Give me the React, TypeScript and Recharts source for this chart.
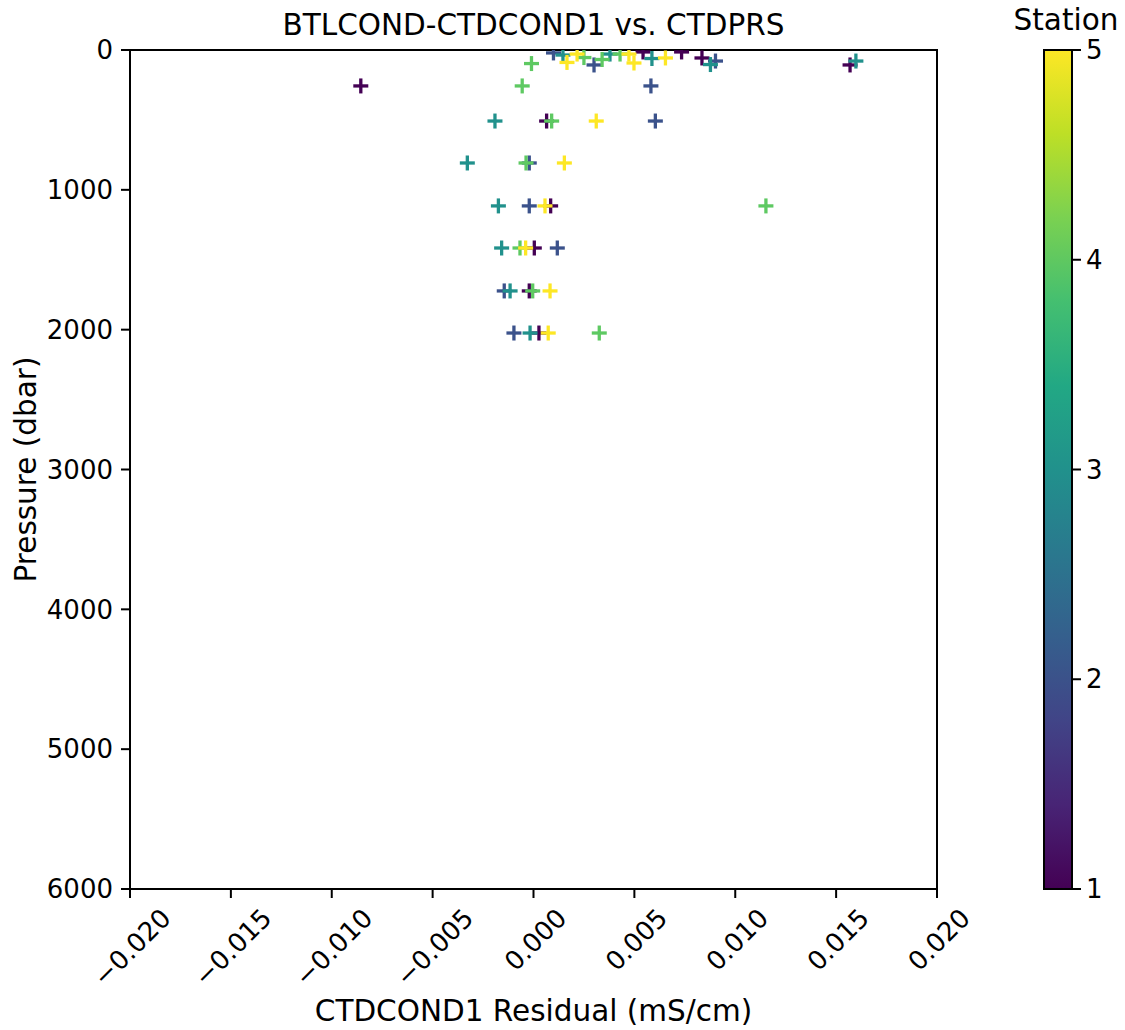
import {
  ScatterChart,
  Scatter,
  XAxis,
  YAxis,
  ReferenceArea,
} from 'recharts'

// bottle minus CTD conductivity residuals (mS/cm) and bottle pressures (dbar), per station
const station1Residual = [-0.00856, 0.00065, 0.00085, 0.00004, -0.00021, 0.00027, 0.00543, 0.00734, 0.00835, 0.01569]
const station1Pressure = [257, 508, 1115, 1416, 1723, 2024, 14, 14, 57, 107]

const station2Residual = [0.00582, 0.00604, -0.00021, -0.00021, 0.00118, -0.00145, -0.00097, 0.00099, 0.003, 0.00902]
const station2Pressure = [257, 508, 808, 1115, 1416, 1723, 2024, 21, 107, 79]

const station3Residual = [-0.00191, -0.00328, -0.00174, -0.00158, -0.00116, -0.00017, 0.00146, 0.00379, 0.00587, 0.00877, 0.01598]
const station3Pressure = [508, 808, 1115, 1416, 1723, 2024, 36, 29, 61, 104, 79]

const station4Residual = [-0.00056, 0.0009, -0.00037, 0.01152, -0.00067, -0.00004, 0.00326, -0.0001, 0.0025, 0.0034, 0.00429]
const station4Pressure = [257, 508, 808, 1115, 1416, 1723, 2024, 97, 54, 68, 29]

const station5Residual = [0.00311, 0.00153, 0.00057, -0.00039, 0.00082, 0.00073, 0.00166, 0.00216, 0.00473, 0.00498, 0.00654]
const station5Pressure = [508, 808, 1115, 1416, 1723, 2024, 89, 29, 29, 93, 57]

const stationNumbers = [1, 2, 3, 4, 5]
const residualTicks = [-0.02, -0.015, -0.01, -0.005, 0, 0.005, 0.01, 0.015, 0.02]
const pressureTicks = [0, 1000, 2000, 3000, 4000, 5000, 6000]

// viridis, sampled every 0.1
const viridis = ['#440154', '#482475', '#414487', '#355f8d', '#2a788e', '#21918c', '#22a884', '#44bf70', '#7ad151', '#bddf26', '#fde725']
const stationColors = ['#440154', '#3b528b', '#21918c', '#5ec962', '#fde725']

const toPoints = (res: number[], prs: number[]) => res.map((r, i) => ({ residual: r, pressure: prs[i] }))

const stations = [
  toPoints(station1Residual, station1Pressure),
  toPoints(station2Residual, station2Pressure),
  toPoints(station3Residual, station3Pressure),
  toPoints(station4Residual, station4Pressure),
  toPoints(station5Residual, station5Pressure),
]

const FONT = '"DejaVu Sans", sans-serif'
const TICK_FS = 26
const LABEL_FS = 29.5
const W = 1125
const H = 1030
const PLOT = { left: 130, right: 937, top: 50, bottom: 889 }
const BAR = { left: 1044, right: 1072 }

function PlusMarker(props: any) {
  const { cx, cy, fill } = props
  const r = 7.5
  return (
    <g stroke={fill} strokeWidth={3.3}>
      <line x1={cx - r} y1={cy} x2={cx + r} y2={cy} />
      <line x1={cx} y1={cy - r} x2={cx} y2={cy + r} />
    </g>
  )
}

const fmt = (v: number) => (v < 0 ? '\u2212' : '') + Math.abs(v).toFixed(3)

function RotatedTick(props: any) {
  const { x, y, payload } = props
  const label = fmt(payload.value)
  // rough DejaVu advance widths, in em
  const w = label.split('').reduce((s, ch) => s + (ch === '\u2212' ? 0.838 : ch === '.' ? 0.318 : 0.636), 0) * TICK_FS
  const cy = y + 9 + (w + 18) / 2.83
  return (
    <text
      x={x + 2}
      y={cy}
      textAnchor="middle"
      dominantBaseline="central"
      fontSize={TICK_FS}
      fontFamily={FONT}
      fill="#000"
      transform={`rotate(-45 ${x + 2} ${cy})`}
    >
      {label}
    </text>
  )
}

function Colorbar() {
  const yOf = (s: number) => PLOT.bottom - ((s - 1) / 4) * (PLOT.bottom - PLOT.top)
  return (
    <g fontFamily={FONT} fill="#000">
      <defs>
        <linearGradient id="viridisBar" x1="0" y1="1" x2="0" y2="0">
          {viridis.map((c, i) => (
            <stop key={c} offset={`${i * 10}%`} stopColor={c} />
          ))}
        </linearGradient>
      </defs>
      <rect
        x={BAR.left}
        y={PLOT.top}
        width={BAR.right - BAR.left}
        height={PLOT.bottom - PLOT.top}
        fill="url(#viridisBar)"
        stroke="#000"
        strokeWidth={2}
      />
      {stationNumbers.map((s) => (
        <g key={s}>
          <line x1={BAR.right} x2={BAR.right + 9} y1={yOf(s)} y2={yOf(s)} stroke="#000" strokeWidth={2} />
          <text x={BAR.right + 14} y={yOf(s)} dominantBaseline="central" fontSize={TICK_FS}>
            {s}
          </text>
        </g>
      ))}
      <text x={1066} y={20} textAnchor="middle" dominantBaseline="central" fontSize={LABEL_FS}>
        Station
      </text>
    </g>
  )
}

export default function App() {
  return (
    <div style={{ position: 'absolute', left: 0, top: 0, width: W, height: H, background: '#fff' }}>
      <ScatterChart
        width={W}
        height={H}
        margin={{ top: PLOT.top, left: PLOT.left - 80, right: W - PLOT.right, bottom: H - PLOT.bottom - 100 }}
      >
        <XAxis
          type="number"
          dataKey="residual"
          domain={[-0.02, 0.02]}
          ticks={residualTicks}
          allowDataOverflow
          height={100}
          tickSize={9}
          tickMargin={0}
          axisLine={{ stroke: '#000', strokeWidth: 2 }}
          tickLine={{ stroke: '#000', strokeWidth: 2 }}
          tick={<RotatedTick />}
          interval={0}
        />
        <YAxis
          type="number"
          dataKey="pressure"
          domain={[0, 6000]}
          ticks={pressureTicks}
          reversed
          allowDataOverflow
          width={80}
          tickSize={9}
          tickMargin={8}
          axisLine={{ stroke: '#000', strokeWidth: 2 }}
          tickLine={{ stroke: '#000', strokeWidth: 2 }}
          tick={{ fill: '#000', fontSize: TICK_FS, fontFamily: FONT }}
          interval={0}
        />
        <ReferenceArea x1={-0.02} x2={0.02} y1={0} y2={6000} fill="none" stroke="#000" strokeWidth={2} />
        {stations.map((pts, i) => (
          <Scatter
            key={i}
            data={pts}
            fill={stationColors[i]}
            shape={<PlusMarker />}
            isAnimationActive={false}
          />
        ))}
      </ScatterChart>
      <svg width={W} height={H} style={{ position: 'absolute', left: 0, top: 0, pointerEvents: 'none' }}>
        <g fontFamily={FONT} fill="#000">
          <text x={(PLOT.left + PLOT.right) / 2} y={25} textAnchor="middle" dominantBaseline="central" fontSize={LABEL_FS}>
            BTLCOND-CTDCOND1 vs. CTDPRS
          </text>
          <text x={(PLOT.left + PLOT.right) / 2} y={1011} textAnchor="middle" dominantBaseline="central" fontSize={LABEL_FS}>
            CTDCOND1 Residual (mS/cm)
          </text>
          <text
            x={26}
            y={(PLOT.top + PLOT.bottom) / 2}
            textAnchor="middle"
            dominantBaseline="central"
            fontSize={LABEL_FS}
            transform={`rotate(-90 26 ${(PLOT.top + PLOT.bottom) / 2})`}
          >
            Pressure (dbar)
          </text>
        </g>
        <Colorbar />
      </svg>
    </div>
  )
}
